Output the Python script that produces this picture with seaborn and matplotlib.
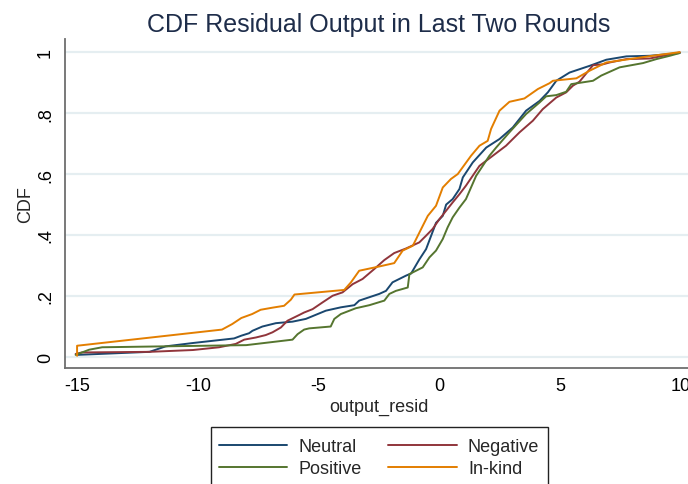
import numpy as np
import pandas as pd
import matplotlib
matplotlib.use('Agg')
import matplotlib.pyplot as plt
from matplotlib.patches import Rectangle
import seaborn as sns

neutral_x = [-15.0, -12.0, -11.33, -10.2, -8.5, -8.2, -7.88, -7.74, -7.33, -6.77, -6.08, -5.53,
             -4.7, -4.08, -3.52, -3.32, -2.49, -2.21, -1.94, -1.38, -1.17, -0.83, -0.55, -0.34,
             -0.14, 0.14, 0.28, 0.55, 0.83, 0.97, 1.38, 1.94, 2.49, 3.04, 3.59, 4.15, 4.49, 4.84,
             5.39, 6.22, 6.91, 7.74, 8.71, 9.95]
neutral_cdf = [0.007, 0.017, 0.035, 0.046, 0.061, 0.07, 0.078, 0.086, 0.1, 0.111, 0.116, 0.125,
               0.152, 0.163, 0.17, 0.185, 0.207, 0.217, 0.245, 0.267, 0.274, 0.32, 0.354, 0.398,
               0.44, 0.463, 0.5, 0.518, 0.551, 0.589, 0.638, 0.687, 0.715, 0.753, 0.808, 0.84,
               0.868, 0.906, 0.933, 0.955, 0.975, 0.986, 0.988, 0.997]

negative_x = [-15.06, -14.8, -12.0, -10.2, -9.12, -8.43, -8.08, -7.6, -7.19, -6.91, -6.56, -6.29,
              -5.8, -5.6, -5.25, -4.84, -4.42, -4.01, -3.59, -3.18, -2.69, -2.28, -1.87, -1.38,
              -0.83, -0.55, -0.28, 0.0, 0.28, 0.55, 0.83, 1.1, 1.66, 2.21, 2.76, 3.32, 3.87, 4.28,
              4.84, 5.25, 5.53, 5.8, 6.36, 6.77, 7.05, 7.74, 8.71, 9.4, 9.95]
negative_cdf = [0.01, 0.015, 0.017, 0.023, 0.032, 0.043, 0.057, 0.064, 0.072, 0.081, 0.097, 0.119,
                0.138, 0.146, 0.157, 0.179, 0.201, 0.212, 0.239, 0.256, 0.289, 0.318, 0.341, 0.356,
                0.376, 0.398, 0.42, 0.452, 0.48, 0.507, 0.534, 0.562, 0.627, 0.66, 0.693, 0.737,
                0.775, 0.813, 0.851, 0.868, 0.89, 0.903, 0.957, 0.96, 0.966, 0.977, 0.979, 0.99,
                0.999]

positive_x = [-15.06, -14.5, -13.96, -8.0, -6.08, -5.87, -5.6, -5.39, -4.5, -4.35, -4.08, -3.46,
              -2.9, -2.28, -2.07, -1.8, -1.31, -1.24, -0.69, -0.41, -0.14, 0.14, 0.34, 0.55, 0.83,
              1.1, 1.52, 2.07, 2.35, 2.9, 3.59, 4.15, 4.42, 4.84, 5.25, 5.46, 6.36, 6.7, 7.46, 8.43,
              8.98, 9.54, 9.95]
positive_cdf = [0.007, 0.024, 0.032, 0.039, 0.057, 0.075, 0.09, 0.094, 0.1, 0.125, 0.141, 0.16,
                0.17, 0.185, 0.207, 0.217, 0.228, 0.272, 0.294, 0.327, 0.349, 0.387, 0.425, 0.458,
                0.49, 0.518, 0.594, 0.66, 0.687, 0.737, 0.797, 0.835, 0.855, 0.859, 0.87, 0.895,
                0.906, 0.923, 0.95, 0.964, 0.977, 0.988, 0.997]

inkind_x = [-15.0, -15.0, -9.0, -8.58, -8.2, -7.75, -7.4, -6.9, -6.43, -6.15, -6.0, -3.94, -3.66,
            -3.32, -2.49, -1.87, -1.52, -1.1, -0.69, -0.48, -0.14, 0.14, 0.48, 0.76, 1.31, 1.66,
            2.0, 2.14, 2.49, 2.9, 3.52, 4.08, 4.56, 4.7, 5.67, 6.22, 6.91, 8.29, 9.95]
inkind_cdf = [0.004, 0.037, 0.09, 0.108, 0.128, 0.141, 0.155, 0.162, 0.168, 0.188, 0.205, 0.22,
              0.245, 0.283, 0.297, 0.308, 0.349, 0.365, 0.43, 0.463, 0.496, 0.556, 0.584, 0.6,
              0.66, 0.693, 0.709, 0.748, 0.808, 0.837, 0.848, 0.879, 0.898, 0.906, 0.914, 0.939,
              0.966, 0.982, 1.0]

groups = ['Neutral', 'Negative', 'Positive', 'In-kind']
colors = ['#1a476f', '#90353b', '#55752f', '#e37e00']
x_ticks = [-15, -10, -5, 0, 5, 10]
y_ticks = [0, 0.2, 0.4, 0.6, 0.8, 1.0]
y_ticklabels = ['0', '.2', '.4', '.6', '.8', '1']

frames = []
for g, xs, ys in zip(groups, [neutral_x, negative_x, positive_x, inkind_x],
                     [neutral_cdf, negative_cdf, positive_cdf, inkind_cdf]):
    frames.append(pd.DataFrame({'output_resid': xs, 'CDF': ys, 'group': g,
                                'order': np.arange(len(xs))}))
df = pd.concat(frames, ignore_index=True)

sns.set_style('white')
plt.rcParams['font.family'] = ['Liberation Sans', 'DejaVu Sans']

W, H = 688, 485
fig = plt.figure(figsize=(W / 100, H / 100), dpi=100)
ax = fig.add_axes([65 / W, 116 / H, 628 / W, 329 / H])

sns.lineplot(data=df, x='output_resid', y='CDF', hue='group', hue_order=groups,
             palette=colors, sort=False, estimator=None, units='group', lw=1.4, ax=ax)

ax.set_xlim(-15.5, 10.5)
ax.set_ylim(-0.036, 1.043)
ax.set_xticks(x_ticks)
ax.set_xticklabels([str(t) for t in x_ticks])
ax.set_yticks(y_ticks)
ax.set_yticklabels(y_ticklabels, rotation=90, va='center')
ax.yaxis.grid(True, color='#e5eef1', lw=1.6)
ax.set_axisbelow(True)

for side in ['top', 'right']:
    ax.spines[side].set_visible(False)
for side in ['left', 'bottom']:
    ax.spines[side].set_color('#6e6e6e')
    ax.spines[side].set_linewidth(1.3)
ax.tick_params(axis='both', direction='out', length=5, width=1, color='#444444',
               labelsize=13, labelcolor='black')
ax.tick_params(axis='x', pad=1.5)
ax.tick_params(axis='y', pad=3)

ax.set_xlabel('output_resid', fontsize=13, labelpad=3)
ax.set_ylabel('CDF', fontsize=13, labelpad=2)
ax.set_title('CDF Residual Output in Last Two Rounds', fontsize=18, color='#1e2d4a', pad=6)

handles, labels = ax.get_legend_handles_labels()
ax.get_legend().remove()
lookup = dict(zip(labels, handles))
leg_order = ['Neutral', 'Positive', 'Negative', 'In-kind']
leg = fig.legend([lookup[k] for k in leg_order], leg_order, ncol=2, loc='upper center',
                 bbox_to_anchor=(379 / W, 1 - 439 / H), bbox_transform=fig.transFigure,
                 fontsize=13, frameon=False, handlelength=3.8,
                 handletextpad=0.6, columnspacing=1.5, labelspacing=0.3, borderpad=0.0,
                 borderaxespad=0)
for line in leg.get_lines():
    line.set_linewidth(1.4)

# legend frame runs past the bottom edge, as in the original export
fig.patches.append(Rectangle((210.5 / W, -10 / H), 337 / W, (485 - 428 + 10) / H,
                             transform=fig.transFigure, fill=False, ec='#222222', lw=1.0))

fig.savefig('out.png', dpi=100)
